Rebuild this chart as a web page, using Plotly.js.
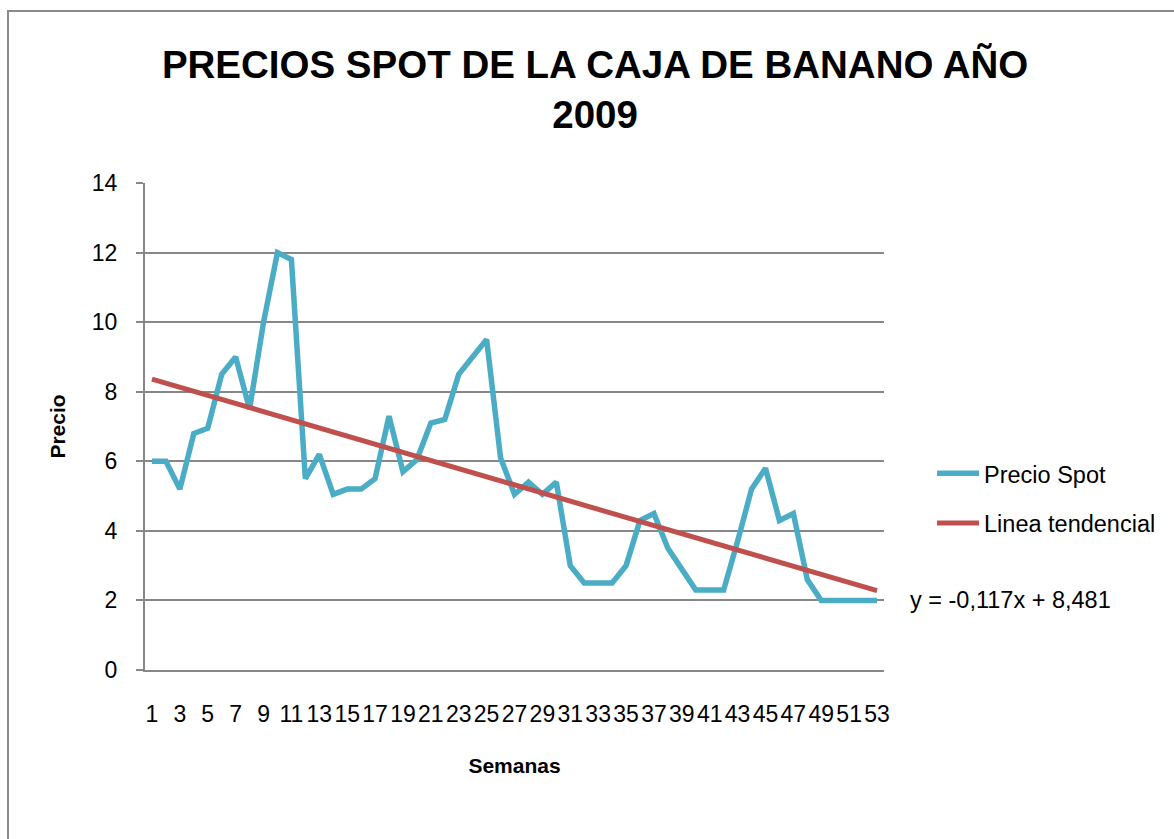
<!DOCTYPE html>
<html>
<head>
<meta charset="utf-8">
<script src="https://cdn.plot.ly/plotly-3.0.1.min.js"></script>
<style>
  html, body { margin: 0; padding: 0; background: #ffffff; overflow: hidden; }
  #wrap { position: relative; width: 1174px; height: 839px; }
  #chart { width: 1174px; height: 839px; }
  #frame { position: absolute; left: 7px; top: 10px; width: 1300px; height: 1000px;
           border-left: 2px solid #8a8a8a; border-top: 2px solid #8a8a8a; pointer-events: none; }
</style>
</head>
<body>
<div id="wrap">
  <div id="chart"></div>
  <div id="frame"></div>
</div>
<script>
// Semanas (categorías)
const semanas = ["1","2","3","4","5","6","7","8","9","10","11","12","13","14","15","16","17","18","19","20",
  "21","22","23","24","25","26","27","28","29","30","31","32","33","34","35","36","37","38","39","40",
  "41","42","43","44","45","46","47","48","49","50","51","52","53"];

// Precio Spot por semana
const precioSpot = [6, 6, 5.2, 6.8, 6.95, 8.5, 9, 7.5, 10, 12,
  11.8, 5.5, 6.2, 5.05, 5.2, 5.2, 5.5, 7.3, 5.7, 6.05,
  7.1, 7.2, 8.5, 9, 9.5, 6.1, 5.05, 5.4, 5.05, 5.4,
  3, 2.5, 2.5, 2.5, 3, 4.3, 4.5, 3.5, 2.9, 2.3,
  2.3, 2.3, 3.7, 5.2, 5.8, 4.3, 4.5, 2.6, 2, 2,
  2, 2, 2];

// Línea tendencial: extremos (semana 1 y semana 53)
const tendX = ["1", "53"];
const tendY = [8.364, 2.280];

// Etiquetas del eje X (semanas impares)
const xTickVals = ["1","3","5","7","9","11","13","15","17","19","21","23","25","27","29","31","33","35","37","39","41","43","45","47","49","51","53"];
const xTickText = ["1","3","5","7","9","11","13","15","17","19","21","23","25","27","29","31","33","35","37","39","41","43","45","47","49","51","53"];

// Eje Y
const yTickVals = [0, 2, 4, 6, 8, 10, 12, 14];

const ecuacion = "y = -0,117x + 8,481";

const FONT = "Liberation Sans, Arial, sans-serif";
const GRID = "#878787";

const traces = [
  {
    x: semanas, y: precioSpot, type: "scatter", mode: "lines",
    name: "Precio Spot", legendgroup: "a",
    line: { color: "#4bacc6", width: 5.5, shape: "linear" },
    hoverinfo: "x+y"
  },
  {
    x: tendX, y: tendY, type: "scatter", mode: "lines",
    name: "Linea tendencial", legendgroup: "b",
    line: { color: "#c0504d", width: 5 },
    hoverinfo: "skip"
  }
];

const layout = {
  width: 1174, height: 839,
  paper_bgcolor: "#ffffff", plot_bgcolor: "#ffffff",
  margin: { l: 145, r: 290, t: 183, b: 169, pad: 0 },
  font: { family: FONT, color: "#000000", size: 22 },
  title: {
    text: "<b>PRECIOS SPOT DE LA CAJA DE BANANO AÑO<br>2009</b>",
    font: { family: FONT, size: 38.5, color: "#000000" },
    x: 0.609, xanchor: "center", xref: "paper",
    y: 0.907, yanchor: "top", yref: "container"
  },
  xaxis: {
    type: "category",
    categoryorder: "array", categoryarray: semanas,
    range: [-0.5, 52.5],
    tickmode: "array", tickvals: xTickVals, ticktext: xTickText,
    tickangle: 0,
    ticks: "", showgrid: false, zeroline: false,
    showline: true, linecolor: GRID, linewidth: 2,
    tickfont: { family: FONT, size: 23, color: "#000000" },
    ticklabelstandoff: 22,
    title: { text: "<b>Semanas</b>", font: { family: FONT, size: 21, color: "#000000" }, standoff: 33 },
    fixedrange: true
  },
  yaxis: {
    range: [0, 14],
    tickmode: "array", tickvals: yTickVals,
    ticks: "outside", ticklen: 7, tickcolor: GRID, tickwidth: 2,
    showgrid: true, gridcolor: GRID, gridwidth: 2,
    zeroline: false,
    showline: true, linecolor: GRID, linewidth: 2,
    tickfont: { family: FONT, size: 23, color: "#000000" },
    ticklabelstandoff: 14,
    title: { text: "<b>Precio</b>", font: { family: FONT, size: 21, color: "#000000" }, standoff: 20 },
    fixedrange: true
  },
  showlegend: true,
  legend: {
    x: 1.065, xanchor: "left", xref: "paper",
    y: 0.352, yanchor: "middle",
    font: { family: FONT, size: 23.5, color: "#000000" },
    traceorder: "grouped", tracegroupgap: 16,
    bgcolor: "rgba(0,0,0,0)", borderwidth: 0,
    itemwidth: 42
  },
  annotations: [
    {
      text: ecuacion, xref: "paper", x: 1.0325, xanchor: "left",
      yref: "y", y: 2, yanchor: "middle",
      showarrow: false, font: { family: FONT, size: 23.5, color: "#000000" }
    }
  ]
};

Plotly.newPlot("chart", traces, layout, { displayModeBar: false, staticPlot: true });
</script>
</body>
</html>
